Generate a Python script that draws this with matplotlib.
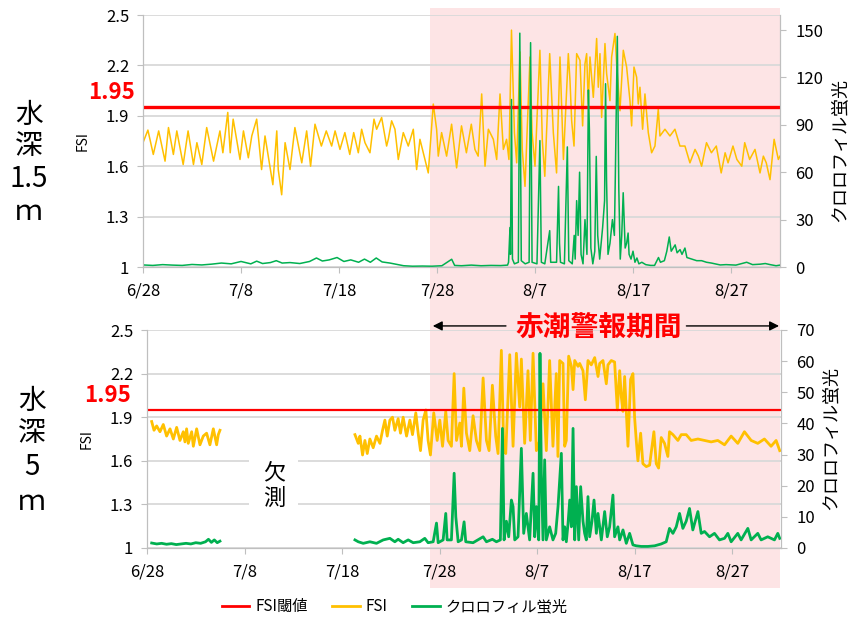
import matplotlib.pyplot as plt
import matplotlib.patches as mpatches
import matplotlib.transforms as mtransforms
from matplotlib.lines import Line2D

plt.rcParams['font.family'] = ['Noto Sans CJK JP', 'DejaVu Sans']

# x = days counted from 6/28 00:00
day_ticks = [0, 10, 20, 30, 40, 50, 60]
day_labels = ['6/28', '7/8', '7/18', '7/28', '8/7', '8/17', '8/27']
fsi_ticks = [1, 1.3, 1.6, 1.9, 2.2, 2.5]
fsi_limit = 1.95
warn_start = 29.3   # 赤潮警報 start
x_end = 65

# ---- depth 1.5 m ----
fsi15_t = [0.0, 0.5, 1.05, 1.6, 2.25, 2.6, 3.1, 3.45, 4.1, 4.6,
           5.15, 5.5, 6.0, 6.5, 7.2, 7.85, 8.15, 8.65, 8.9, 9.2,
           9.9, 10.25, 10.75, 11.1, 11.6, 12.1, 12.45, 12.95, 13.25, 13.65,
           13.8, 14.15, 14.5, 15.0, 15.5, 16.2, 16.7, 17.1, 17.55, 18.2,
           18.7, 19.25, 19.6, 20.1, 20.6, 21.1, 21.5, 21.97, 22.31, 22.65,
           23.16, 23.57, 23.84, 24.35, 24.86, 25.03, 25.37, 25.71, 26.05, 26.56,
           27.07, 27.58, 27.92, 28.26, 28.6, 29.11, 29.62, 29.96, 30.13, 30.47,
           30.98, 31.49, 31.83, 32.0, 32.5, 33.0, 33.5, 33.87, 34.2, 34.56,
           34.9, 35.24, 35.75, 36.09, 36.43, 36.77, 37.1, 37.34, 37.6, 37.9,
           38.13, 38.47, 38.7, 38.98, 39.49, 39.7, 40.0, 40.5, 40.75, 41.0,
           41.5, 41.87, 42.2, 42.55, 42.9, 43.4, 43.57, 43.74, 43.98, 44.25,
           44.59, 44.86, 45.1, 45.27, 45.44, 45.61, 45.95, 46.29, 46.46, 46.63,
           46.8, 47.14, 47.31, 47.65, 47.82, 48.16, 48.33, 48.67, 49.01, 49.35,
           49.69, 49.86, 50.1, 50.37, 50.54, 50.71, 50.98, 51.22, 51.56, 51.9,
           52.24, 52.58, 52.75, 53.26, 53.77, 54.28, 54.79, 55.3, 55.81, 56.33,
           56.67, 57.0, 57.5, 58.0, 58.5, 59.0, 59.4, 59.7, 60.2, 60.6,
           61.1, 61.4, 61.9, 62.45, 62.96, 63.3, 63.6, 63.98, 64.4, 64.83,
           65.0]
fsi15_v = [1.74, 1.815, 1.67, 1.81, 1.63, 1.83, 1.67, 1.81, 1.61, 1.81,
           1.61, 1.74, 1.61, 1.83, 1.63, 1.81, 1.68, 1.92, 1.68, 1.88,
           1.64, 1.81, 1.65, 1.78, 1.88, 1.58, 1.78, 1.60, 1.49, 1.81,
           1.58, 1.43, 1.74, 1.58, 1.83, 1.62, 1.81, 1.60, 1.85, 1.72,
           1.81, 1.72, 1.81, 1.70, 1.80, 1.67, 1.80, 1.68, 1.82, 1.74,
           1.68, 1.88, 1.82, 1.89, 1.72, 1.76, 1.87, 1.82, 1.64, 1.80,
           1.72, 1.82, 1.58, 1.76, 1.68, 1.56, 1.97, 1.82, 1.66, 1.80,
           1.66, 1.85, 1.68, 1.59, 1.84, 1.68, 1.85, 1.70, 1.66, 2.03,
           1.60, 1.82, 1.76, 1.64, 2.03, 1.70, 1.76, 1.64, 2.41, 1.80,
           1.62, 2.28, 1.70, 1.48, 2.25, 1.80, 1.60, 2.29, 1.75, 1.54,
           2.27, 1.80, 1.56, 2.25, 1.64, 2.27, 2.11, 1.87, 1.72, 2.27,
           2.23, 1.84, 2.21, 2.27, 1.97, 2.25, 2.01, 2.36, 2.07, 2.27,
           1.89, 2.33, 2.15, 1.99, 2.25, 2.39, 2.21, 1.93, 2.29, 2.19,
           1.99, 1.84, 2.19, 2.13, 1.97, 2.07, 1.82, 2.03, 1.80, 1.68,
           1.72, 1.94, 1.78, 1.82, 1.78, 1.82, 1.72, 1.72, 1.62, 1.70,
           1.66, 1.60, 1.74, 1.68, 1.72, 1.56, 1.68, 1.62, 1.72, 1.64,
           1.60, 1.74, 1.64, 1.70, 1.56, 1.66, 1.62, 1.52, 1.76, 1.64,
           1.66]

chl15_t = [0, 1, 2, 3, 4, 5, 6, 7, 8, 9,
           10, 11, 11.6, 12.2, 13, 13.6, 14.2, 15, 16, 17,
           17.7, 18.3, 19, 19.8, 20.5, 21.2, 22, 22.6, 23.2, 23.8,
           24.4, 25.2, 26, 26.6, 27.5, 28.5, 29.5, 30.5, 31.5, 31.8,
           32.5, 33.5, 34.5, 35.5, 36.5, 37.2, 37.3, 37.45, 37.5, 37.6,
           37.7, 37.9, 38.3, 38.45, 38.6, 39.0, 39.4, 39.55, 39.7, 40.2,
           40.5, 40.65, 41.0, 41.5, 41.6, 42.2, 42.4, 42.5, 42.6, 43.0,
           43.3, 43.45, 43.8, 44.0, 44.1, 44.25, 44.4, 44.55, 44.7, 44.9,
           45.1, 45.3, 45.45, 45.55, 45.7, 45.9, 46.1, 46.25, 46.4, 46.6,
           46.9, 47.1, 47.2, 47.3, 47.45, 47.65, 47.9, 48.1, 48.2, 48.4,
           48.55, 48.7, 48.85, 49.0, 49.2, 49.35, 49.5, 49.6, 49.8, 50.0,
           50.2, 50.4, 50.6, 50.9, 51.3, 51.8, 52.2, 52.6, 52.8, 53.2,
           53.45, 53.7, 53.9, 54.1, 54.3, 54.5, 54.8, 55.0, 55.3, 55.5,
           56.0, 56.5, 57.0, 57.5, 58.0, 58.9, 59.5, 60.5, 61.0, 61.6,
           62.2, 63.0, 63.5, 64.0, 64.6, 65.0]
chl15_v = [1.3, 1.0, 1.5, 1.2, 1.0, 1.6, 1.3, 1.8, 2.5, 2.0,
           3.5, 2.0, 3.7, 2.2, 2.8, 4.0, 2.5, 2.8, 2.2, 3.5,
           5.7, 3.8, 4.5, 6.0, 3.5, 4.5, 3.0, 5.0, 3.0, 5.7,
           3.2, 2.5, 1.5, 0.8, 0.5, 0.6, 0.5, 0.8, 4.9, 1.0,
           0.8, 1.2, 0.8, 1.0, 0.9, 1.2, 3, 25, 8, 106,
           5, 2, 3, 148, 4, 2, 3, 142, 3, 2,
           80, 3, 2, 23, 3, 3, 51, 15, 3, 2,
           76, 4, 2, 20, 5, 42, 20, 60, 8, 2,
           30, 8, 112, 87, 12, 2, 10, 70, 20, 5,
           25, 42, 116, 55, 8, 15, 30, 20, 59, 146,
           50, 5, 20, 47, 12, 15, 21.5, 8, 5, 10,
           3, 5.7, 2, 3, 1.5, 1, 1, 6, 3, 4,
           10, 19, 10, 12, 14, 9, 11, 8, 12, 6,
           5, 4, 4, 3, 2.5, 1.3, 1.5, 1.2, 2, 3,
           1.5, 1.8, 2.2, 1.5, 0.8, 1.2]

# ---- depth 5 m (gap in between = 欠測) ----
fsi5a_t = [0.48, 0.72, 0.99, 1.33, 1.67, 2.01, 2.36, 2.70, 3.04, 3.38,
           3.72, 3.89, 4.06, 4.23, 4.58, 4.75, 5.09, 5.43, 5.77, 6.11,
           6.45, 6.80, 7.14, 7.31, 7.48]
fsi5a_v = [1.87, 1.81, 1.84, 1.80, 1.85, 1.77, 1.82, 1.75, 1.83, 1.74,
           1.80, 1.73, 1.82, 1.72, 1.80, 1.70, 1.82, 1.71, 1.77, 1.79,
           1.71, 1.82, 1.71, 1.78, 1.81]
chl5a_t = [0.48, 1.0, 1.5, 2.0, 2.5, 3.0, 3.5, 4.0, 4.5, 5.0,
           5.5, 6.0, 6.3, 6.6, 6.9, 7.2, 7.48]
chl5a_v = [1.6, 1.3, 1.5, 1.2, 1.4, 1.1, 1.3, 1.5, 1.3, 1.7,
           1.5, 2.0, 2.8, 1.8, 2.6, 1.7, 2.2]

fsi5b_t = [21.32, 21.66, 21.83, 22.1, 22.34, 22.58, 22.85, 23.19, 23.53, 23.88,
           24.15, 24.39, 24.63, 24.9, 25.17, 25.41, 25.75, 25.99, 26.26, 26.61,
           26.95, 27.22, 27.56, 27.8, 28.04, 28.31, 28.59, 28.82, 29.06, 29.4,
           29.75, 30.02, 30.3, 30.63, 30.87, 31.21, 31.49, 31.73, 32.07, 32.24,
           32.48, 32.75, 33.09, 33.43, 33.77, 34.11, 34.46, 34.8, 35.07, 35.41,
           35.75, 35.99, 36.33, 36.57, 36.78, 37.19, 37.53, 37.87, 38.21, 38.38,
           38.72, 39.06, 39.3, 39.58, 39.92, 40.26, 40.6, 40.94, 41.28, 41.62,
           41.96, 42.13,
           42.31, 42.65, 42.82, 42.99, 43.23, 43.51, 43.68, 43.85, 44.19, 44.36,
           44.7, 44.94, 45.21, 45.55, 45.9, 46.24, 46.41, 46.75, 47.09, 47.26,
           47.6, 47.94, 48.22, 48.46, 48.63, 48.8, 48.97, 49.31, 49.58, 49.82,
           49.99, 50.16, 50.33, 50.61, 50.84, 51.19, 51.53, 51.97, 52.21, 52.45,
           52.72, 53.06, 53.4, 53.57, 53.92, 54.43, 54.77, 55.28, 55.79, 56.48,
           57.16, 57.84, 58.52, 59.21, 59.89, 60.57, 61.25, 61.94, 62.62, 63.3,
           63.98, 64.5, 64.87]
fsi5b_v = [1.78, 1.72, 1.77, 1.64, 1.74, 1.65, 1.75, 1.69, 1.77, 1.72,
           1.81, 1.88, 1.77, 1.88, 1.90, 1.81, 1.89, 1.79, 1.90, 1.77,
           1.88, 1.78, 1.93, 1.79, 1.67, 1.88, 1.95, 1.74, 1.64, 1.93,
           1.74, 1.88, 1.70, 1.94, 1.74, 1.70, 2.20, 1.74, 1.86, 1.70,
           2.10, 1.79, 1.67, 1.91, 1.74, 1.67, 2.17, 1.74, 1.67, 2.12,
           1.77, 1.65, 2.36, 1.70, 1.65, 2.33, 1.70, 2.34, 1.97, 2.30,
           1.72, 2.22, 1.74, 2.34, 1.67, 1.74, 2.13, 1.67, 2.29, 1.70,
           2.20, 1.63,
           2.29, 2.27, 1.70, 1.74, 2.32, 2.25, 2.09, 2.29, 2.25, 2.27,
           2.22, 2.02, 2.29, 2.26, 2.31, 2.18, 2.27, 2.29, 2.13, 2.26,
           2.29, 2.28, 1.95, 2.22, 2.04, 1.94, 2.18, 1.70, 2.16, 2.20,
           1.90, 1.74, 1.60, 1.79, 1.58, 1.56, 1.57, 1.80, 1.58, 1.55,
           1.76, 1.72, 1.63, 1.80, 1.78, 1.74, 1.78, 1.78, 1.74, 1.75,
           1.74, 1.73, 1.74, 1.71, 1.77, 1.72, 1.80, 1.74, 1.72, 1.75,
           1.70, 1.74, 1.67]

chl5b_t = [21.32, 21.66, 22.17, 22.85, 23.53, 24.22, 24.9, 25.41, 25.75, 26.26,
           26.78, 27.29, 27.97, 28.48, 28.82, 29.34, 29.68, 29.85, 30.36, 30.63,
           30.77, 31.21, 31.49, 31.66, 31.9, 32.24, 32.51, 32.68, 33.43, 34.46,
           34.8, 35.41, 35.82, 36.23, 36.44, 36.61, 36.85, 37.08, 37.36, 37.53,
           37.7, 38.04, 38.38, 38.62, 38.89, 39.23, 39.58, 39.75, 39.92, 40.16,
           40.29, 40.43, 40.6, 40.77, 40.94, 41.28, 41.62, 41.9, 42.14, 42.48,
           42.65, 42.82, 42.99, 43.17, 43.34, 43.51, 43.68, 43.85, 44.02, 44.26,
           44.46, 44.7, 44.87, 45.04, 45.21, 45.38, 45.62, 45.83, 46.07, 46.24,
           46.58, 46.92, 47.19, 47.43, 47.77, 47.94, 48.28, 48.46, 48.8, 49.14,
           49.48, 49.82, 50.16, 50.67, 51.36, 52.04, 52.72, 53.23, 53.57, 53.92,
           54.26, 54.6, 54.94, 55.28, 55.62, 55.96, 56.48, 56.82, 57.16, 57.67,
           58.18, 58.69, 59.21, 59.55, 59.89, 60.57, 60.91, 61.6, 61.94, 62.62,
           62.96, 63.64, 64.33, 64.67, 64.87]
chl5b_v = [2.6, 2.0, 1.5, 2.0, 1.5, 2.6, 3.1, 2.0, 2.8, 1.7,
           2.6, 1.7, 2.0, 3.1, 1.7, 2.0, 8.0, 1.7, 2.6, 11.1,
           2.6, 2.6, 24.0, 10.0, 2.0, 2.6, 8.4, 2.0, 1.7, 3.6,
           2.0, 2.8, 2.0, 2.6, 38.4, 2.6, 8.6, 3.6, 15.4, 13.3,
           2.6, 3.6, 32.0, 4.7, 11.1, 2.6, 24.0, 3.6, 13.3, 2.6,
           62.5, 24.0, 2.6, 28.3, 2.6, 6.8, 2.6, 4.7, 13.3, 30.4,
           2.6, 6.8, 2.0, 8.0, 15.4, 6.8, 38.4, 2.6, 19.7, 2.6,
           19.7, 8.6, 4.7, 2.6, 16.5, 3.6, 8.6, 15.4, 4.7, 11.1,
           2.6, 11.7, 3.6, 6.8, 17.0, 3.6, 6.8, 2.6, 5.8, 1.5,
           4.7, 1.0, 0.7, 0.5, 0.5, 0.7, 1.3, 2.0, 6.3, 4.7,
           6.8, 11.1, 6.3, 8.6, 12.7, 5.8, 11.7, 4.7, 5.3, 3.6,
           4.7, 2.6, 3.1, 4.7, 2.0, 4.7, 2.6, 6.3, 2.6, 4.7,
           2.6, 3.6, 2.6, 4.7, 3.1]

RED = '#ff0000'
YEL = '#ffc000'
GRN = '#00b050'
PINK = '#fde4e5'
GRID = '#d9d9d9'
SPINE = '#bfbfbf'

fig = plt.figure(figsize=(8.51, 6.23), dpi=100)
ax1 = fig.add_axes([143/851, 356/623, 637/851, 252/623])
ax2 = fig.add_axes([147/851, 75/623, 634/851, 218/623])


def setup(ax, axr, chl_max, chl_ticks):
    ax.set_facecolor('none')
    ax.set_xlim(0, x_end)
    ax.set_ylim(1, 2.5)
    ax.set_yticks(fsi_ticks)
    ax.set_yticklabels([f'{v:g}' for v in fsi_ticks])
    ax.set_xticks(day_ticks)
    ax.set_xticklabels(day_labels)
    ax.grid(axis='y', color=GRID, lw=1.3)
    ax.set_axisbelow(True)
    ax.spines['top'].set_visible(False)
    for s in ['left', 'bottom', 'right']:
        ax.spines[s].set_color(SPINE)
    ax.tick_params(colors=SPINE, labelcolor='black', labelsize=12, length=4)
    ax.tick_params(axis='x', pad=7)
    ax.tick_params(axis='y', pad=6)
    axr.set_ylim(0, chl_max)
    axr.set_yticks(chl_ticks)
    axr.spines['top'].set_visible(False)
    for s in ['left', 'bottom', 'right']:
        axr.spines[s].set_color(SPINE)
    axr.tick_params(colors=SPINE, labelcolor='black', labelsize=12, length=4, pad=7)


ax1r = ax1.twinx()
ax2r = ax2.twinx()
setup(ax1, ax1r, 159.5, [0, 30, 60, 90, 120, 150])
setup(ax2, ax2r, 70, [0, 10, 20, 30, 40, 50, 60, 70])

# warning period shading across both panels
band = mtransforms.blended_transform_factory(ax1.transData, fig.transFigure)
fig.add_artist(mpatches.Rectangle((warn_start, 35/623), x_end - warn_start, 580/623,
                                  transform=band, facecolor=PINK, edgecolor='none', zorder=-1))

# top panel
ax1.plot(fsi15_t, fsi15_v, color=YEL, lw=1.1, zorder=2)
ax1.axhline(fsi_limit, color=RED, lw=2.4, zorder=3)
ax1r.plot(chl15_t, chl15_v, color=GRN, lw=1.1)

# bottom panel
ax2.plot(fsi5a_t, fsi5a_v, color=YEL, lw=2, zorder=2)
ax2.plot(fsi5b_t, fsi5b_v, color=YEL, lw=2, zorder=2)
ax2.axhline(fsi_limit, color=RED, lw=1.6, zorder=3)
ax2r.plot(chl5a_t, chl5a_v, color=GRN, lw=2)
ax2r.plot(chl5b_t, chl5b_v, color=GRN, lw=2)

# labels
for ax, xl, xr, yr in [(ax1, -0.094, 1.094, 0.464), (ax2, -0.096, 1.080, 0.505)]:
    ax.text(xl, 0.5, 'FSI', transform=ax.transAxes, rotation=90,
            ha='center', va='center', fontsize=10)
    ax.text(xr, yr, 'クロロフィル蛍光', transform=ax.transAxes, rotation=90,
            ha='center', va='center', fontsize=13)

tr1 = mtransforms.blended_transform_factory(ax1.transAxes, ax1.transData)
ax1.text(-0.013, 2.04, '1.95', transform=tr1, ha='right', va='center',
         color=RED, fontsize=16, fontweight='bold')
tr2 = mtransforms.blended_transform_factory(ax2.transAxes, ax2.transData)
ax2.text(-0.025, 2.046, '1.95', transform=tr2, ha='right', va='center',
         color=RED, fontsize=16, fontweight='bold')

# depth labels
for s, y in [('水', 115), ('深', 146), ('1.5', 179), ('ｍ', 212)]:
    fig.text(29/851, 1 - y/623, s, ha='center', va='center', fontsize=20)
for s, y in [('水', 401), ('深', 433), ('5', 467), ('ｍ', 502)]:
    fig.text(32/851, 1 - y/623, s, ha='center', va='center', fontsize=20)

# 欠測
ax2.text(13.0, 1.43, '欠\n測', ha='center', va='center', fontsize=16,
         linespacing=1.15, zorder=4,
         bbox=dict(facecolor='white', edgecolor='none', boxstyle='square,pad=0.6'))

# warning period arrows
ax2.text(46.3, 2.515, '赤潮警報期間', ha='center', va='center', color=RED,
         fontsize=20, fontweight='bold', clip_on=False)
ax2.annotate('', xy=(29.3, 2.528), xytext=(36.8, 2.528), annotation_clip=False,
             arrowprops=dict(arrowstyle='-|>', color='black', lw=1, mutation_scale=14,
                             shrinkA=0, shrinkB=0))
ax2.annotate('', xy=(64.8, 2.528), xytext=(55.3, 2.528), annotation_clip=False,
             arrowprops=dict(arrowstyle='-|>', color='black', lw=1, mutation_scale=14,
                             shrinkA=0, shrinkB=0))

handles = [Line2D([], [], color=RED, lw=2), Line2D([], [], color=YEL, lw=2),
           Line2D([], [], color=GRN, lw=2)]
fig.legend(handles, ['FSI閾値', 'FSI', 'クロロフィル蛍光'], loc='center',
           bbox_to_anchor=(0.464, 0.026), ncol=3, frameon=False, fontsize=11,
           handlelength=1.8, handletextpad=0.4, columnspacing=1.6)

fig.savefig('out.png', dpi=100)
